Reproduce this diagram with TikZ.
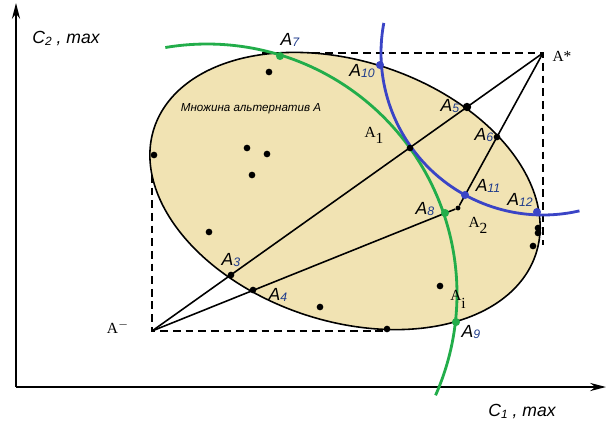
\documentclass[tikz,border=0pt]{standalone}
\usepackage{fontspec}
\setmainfont{Liberation Serif}
\setsansfont{Liberation Sans}
\usetikzlibrary{arrows.meta}
\definecolor{setfill}{HTML}{F1E3B3}
\definecolor{arcgreen}{HTML}{22AD4A}
\definecolor{arcblue}{HTML}{3A44C6}
\definecolor{subblue}{HTML}{1F3C8C}
\newcommand{\altlbl}[1]{A\raisebox{-0.6pt}{\fontsize{7}{7}\selectfont\color{subblue}#1}}
\newcommand{\crit}[1]{C\raisebox{-1.2pt}{\fontsize{6.8}{7}\selectfont #1}}
\begin{document}
\begin{tikzpicture}[x=0.02cm, y=-0.02cm,
  dot/.style={circle, fill, inner sep=0pt, minimum size=3.8pt},
  gdot/.style={dot, fill=arcgreen, minimum size=4.6pt},
  bdot/.style={dot, fill=arcblue, minimum size=4.6pt},
  lbl/.style={font=\sffamily\itshape\fontsize{10}{10}\selectfont, inner sep=0pt},
  rlbl/.style={font=\rmfamily\fontsize{8.8}{9}\selectfont, inner sep=0pt},
  axis/.style={line width=1.2pt, -{Stealth[length=9pt,width=4.6pt]}},
  bound/.style={line width=1.5pt, dash pattern=on 4.4pt off 2.8pt},
  link/.style={line width=0.9pt},
  greenarc/.style={line width=1.6pt, arcgreen},
  bluearc/.style={line width=1.6pt, arcblue}]
\useasboundingbox (0,0) rectangle (611,430);
% axes
\coordinate (O) at (16,387);
\coordinate (ytop) at (16,3);
\coordinate (xend) at (606,387);
\draw[axis] (O) -- (ytop);
\draw[axis] (O) -- (xend);
\node[lbl] (c2) at (66,38) {\crit{2} , max};
\node[lbl] (c1) at (522,411) {\crit{1} , max};
% ideal and anti-ideal points
\coordinate (Amin) at (152,331);
\coordinate (Astar) at (543,53);
\coordinate (topl) at (262,53);
\coordinate (rightb) at (543,245);
\coordinate (leftt) at (152,137);
\coordinate (botr) at (386,331);
\draw[bound] (topl) -- (Astar) -- (rightb);
\draw[bound] (leftt) -- (Amin) -- (botr);
% set of alternatives
\draw[line width=0.9pt, fill=setfill] plot[domain=0:360, samples=120, smooth cycle]
  ({345+201*cos(\x)*cos(18.3)-130*sin(\x)*sin(18.3)}, {191+201*cos(\x)*sin(18.3)+130*sin(\x)*cos(18.3)});
\node[font=\sffamily\itshape\fontsize{6.6}{7}\selectfont, inner sep=0pt] (set) at (251,109) {Множина альтернатив А};
% points
\node[dot] (p1) at (269,72){};
\node[dot] (p2) at (247,148){};
\node[dot] (p3) at (267,154){};
\node[dot] (p4) at (252,175){};
\node[dot] (p5) at (154,155){};
\node[dot] (p6) at (209,232){};
\node[dot] (p7) at (320,307){};
\node[dot] (p8) at (387,329){};
\node[dot] (p9) at (440,286){};
\node[dot] (p10) at (538,228){};
\node[dot] (p11) at (538,233){};
\node[dot] (p12) at (533,246){};
\node[dot, minimum size=2.8pt] (A2) at (458,208){};
\draw[link] (Amin) -- (Astar);
\draw[link] (Amin) -- (A2) -- (Astar);
% arcs
\coordinate (gc) at (207,294);
\draw[greenarc, shift={(gc)}] plot[domain=-99.6:23.9, samples=80, smooth] (\x:250);
\draw[bluearc, shift={(Astar)}] plot[domain=77:190.7, samples=80, smooth] (\x:162);
\node[dot] (A1) at (410,148){};
\node[dot] (A3) at (231,275){};
\node[dot] (A4) at (253,290){};
\node[dot, minimum size=4.8pt] (A5) at (467,107){};
\node[dot] (A6) at (497,137){};
\node[gdot] (A7) at (280,56){};
\node[gdot] (A8) at (445,213){};
\node[gdot] (A9) at (456,322){};
\node[bdot] (A10) at (380,65){};
\node[bdot] (A11) at (465,195){};
\node[bdot] (A12) at (537,212){};
% labels
\node[lbl] (l3) at (231,260) {\altlbl{3}};
\node[lbl] (l4) at (278,295) {\altlbl{4}};
\node[lbl] (l5) at (450,106) {\altlbl{5}};
\node[lbl] (l6) at (484,135) {\altlbl{6}};
\node[lbl] (l7) at (290,40) {\altlbl{7}};
\node[lbl] (l8) at (425,209) {\altlbl{8}};
\node[lbl] (l9) at (471,332) {\altlbl{9}};
\node[lbl] (l10) at (362,71) {\altlbl{10}};
\node[lbl] (l11) at (488,186) {\altlbl{11}};
\node[lbl] (l12) at (520,200) {\altlbl{12}};
\node[rlbl] (r1) at (374,135) {A\raisebox{-3.5pt}{1}};
\node[rlbl] (r2) at (478,225) {A\raisebox{-3.5pt}{2}};
\node[rlbl] (ri) at (458,299) {A\raisebox{-4.5pt}{i}};
\node[rlbl] (rs) at (562,56) {A*};
\node[rlbl] (rm) at (118,327) {A$^{-}$};
\end{tikzpicture}
\end{document}
